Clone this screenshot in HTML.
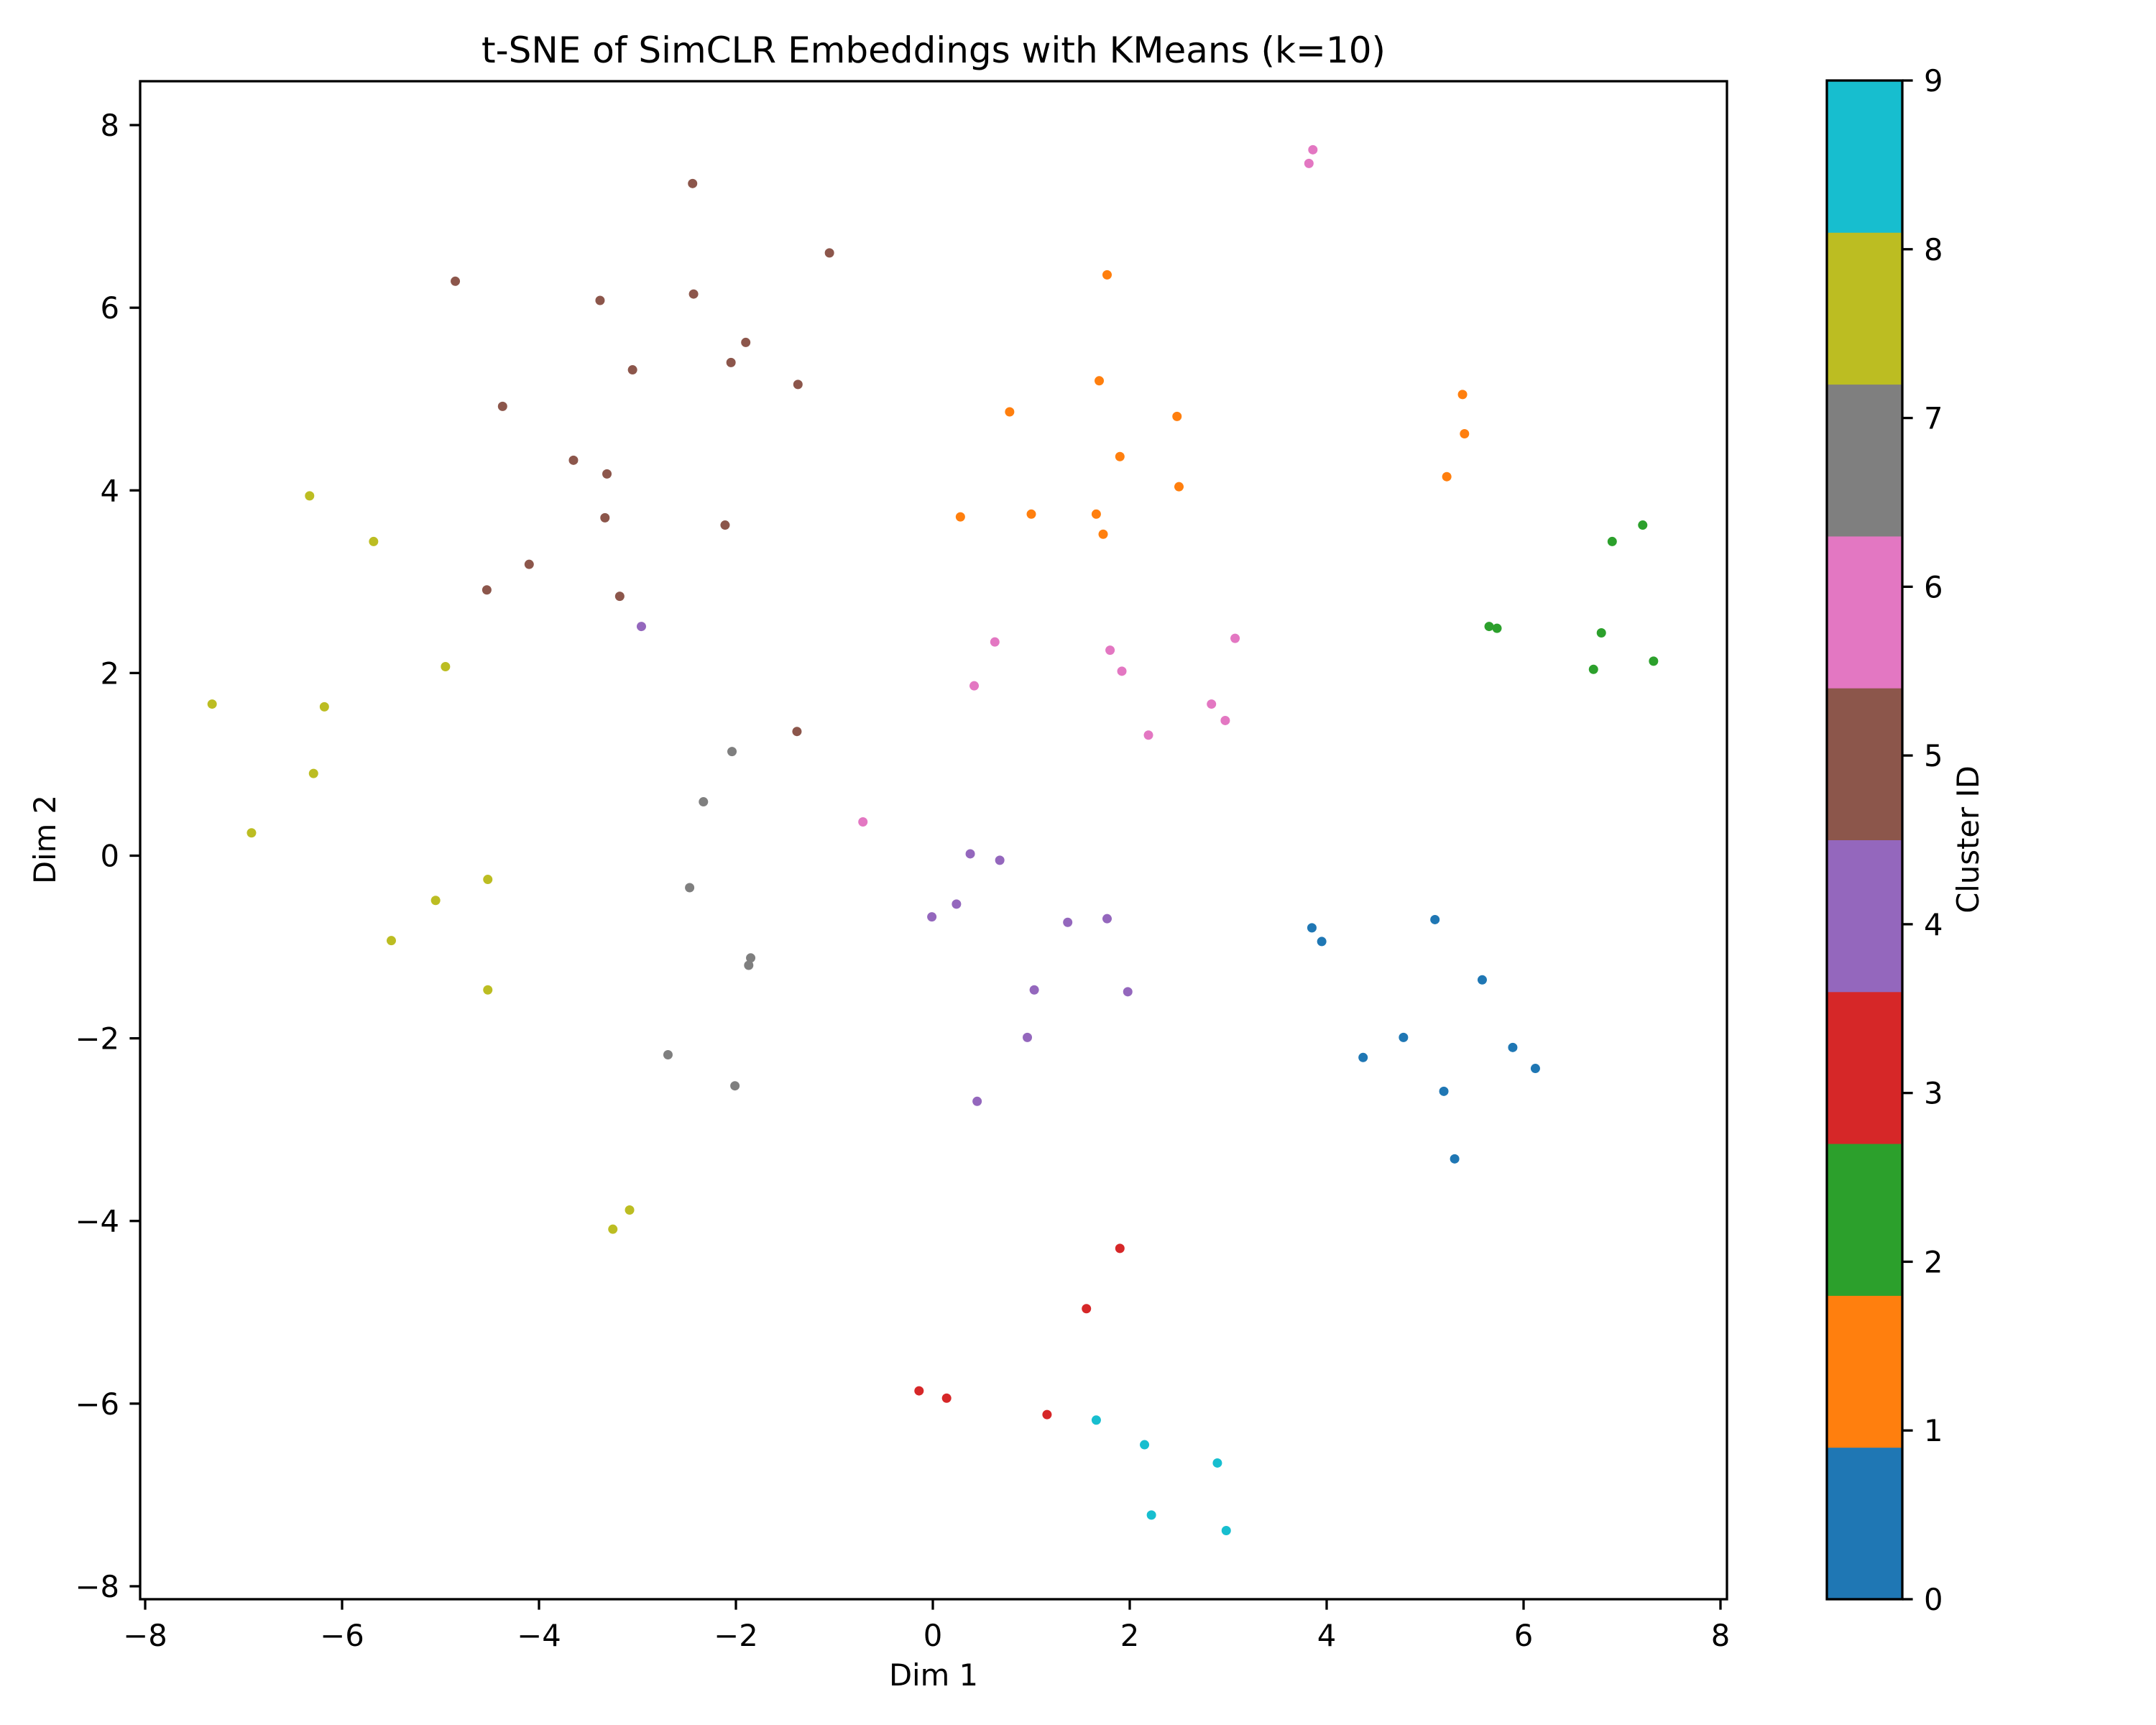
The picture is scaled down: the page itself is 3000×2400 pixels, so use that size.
<!DOCTYPE html>
<html><head><meta charset="utf-8"><style>
html,body{margin:0;padding:0;background:#fff;}
svg{display:block;font-family:"DejaVu Sans","Liberation Sans",sans-serif;}
</style></head><body>
<svg id="chart" width="3000" height="2400" viewBox="0 0 3000 2400" xmlns="http://www.w3.org/2000/svg">
<rect width="3000" height="2400" fill="#fff"/>
<g id="points"></g>
<g id="axes"></g>
<g id="cbar"></g>
</svg>
<script>
const clusterIds = [0,1,2,3,4,5,6,7,8,9];
const clusterColors = ["#1f77b4","#ff7f0e","#2ca02c","#d62728","#9467bd","#8c564b","#e377c2","#7f7f7f","#bcbd22","#17becf"];
const xTicks = [-8,-6,-4,-2,0,2,4,6,8];
const yTicks = [-8,-6,-4,-2,0,2,4,6,8];
const cbTicks = [0,1,2,3,4,5,6,7,8,9];
const c0x = [3.85,3.95,5.10,5.58,4.78,4.37,5.89,6.12,5.19,5.30];
const c0y = [-0.79,-0.94,-0.70,-1.36,-1.99,-2.21,-2.10,-2.33,-2.58,-3.32];
const c1x = [1.77,1.69,0.78,2.48,1.90,2.50,0.28,1.00,1.66,1.73,5.38,5.40,5.22];
const c1y = [6.36,5.20,4.86,4.81,4.37,4.04,3.71,3.74,3.74,3.52,5.05,4.62,4.15];
const c2x = [7.21,6.90,5.65,5.73,6.79,6.71,7.32];
const c2y = [3.62,3.44,2.51,2.49,2.44,2.04,2.13];
const c3x = [1.90,1.56,-0.14,0.14,1.16];
const c3y = [-4.30,-4.96,-5.86,-5.94,-6.12];
const c4x = [-2.96,0.38,0.68,-0.01,0.24,1.37,1.77,1.03,1.98,0.96,0.45];
const c4y = [2.51,0.02,-0.05,-0.67,-0.53,-0.73,-0.69,-1.47,-1.49,-1.99,-2.69];
const c5x = [-2.44,-1.05,-4.85,-3.38,-2.43,-1.90,-3.05,-2.05,-1.37,-4.37,-3.65,-3.31,-3.33,-2.11,-4.10,-4.53,-3.18,-1.38];
const c5y = [7.36,6.60,6.29,6.08,6.15,5.62,5.32,5.40,5.16,4.92,4.33,4.18,3.70,3.62,3.19,2.91,2.84,1.36];
const c6x = [3.86,3.82,0.63,0.42,1.80,1.92,3.07,2.83,2.97,2.19,-0.71];
const c6y = [7.73,7.58,2.34,1.86,2.25,2.02,2.38,1.66,1.48,1.32,0.37];
const c7x = [-2.04,-2.33,-2.47,-1.85,-1.87,-2.69,-2.01];
const c7y = [1.14,0.59,-0.35,-1.12,-1.20,-2.18,-2.52];
const c8x = [-6.33,-5.68,-7.32,-6.18,-4.95,-6.29,-6.92,-4.52,-5.05,-5.50,-4.52,-3.08,-3.25];
const c8y = [3.94,3.44,1.66,1.63,2.07,0.90,0.25,-0.26,-0.49,-0.93,-1.47,-3.88,-4.09];
const c9x = [1.66,2.15,2.89,2.22,2.98];
const c9y = [-6.18,-6.45,-6.65,-7.22,-7.39];

const NS="http://www.w3.org/2000/svg";
const L=195,R=2403,T=113,B=2225;
const X0=1298,XS=137;
const Y0=1190.5,YS=127.06;
function sx(v){return X0+v*XS;}
function sy(v){return Y0-v*YS;}
function mk(tag,attrs,parent){const e=document.createElementNS(NS,tag);for(const k in attrs)e.setAttribute(k,attrs[k]);parent.appendChild(e);return e;}
const pts=document.getElementById('points');
const xs=[c0x,c1x,c2x,c3x,c4x,c5x,c6x,c7x,c8x,c9x];
const ys=[c0y,c1y,c2y,c3y,c4y,c5y,c6y,c7y,c8y,c9y];
clusterIds.forEach(function(c){
  for(let i=0;i<xs[c].length;i++){
    const p=mk('circle',{cx:sx(xs[c][i]),cy:sy(ys[c][i]),r:6.5,fill:clusterColors[c]},pts);
    
    
  }
});
const ax=document.getElementById('axes');
const frame=mk('rect',{x:L,y:T,width:R-L,height:B-T,fill:'none',stroke:'#000','stroke-width':3.3},ax);


xTicks.forEach(function(v){
  const x=sx(v);
  mk('line',{x1:x,y1:B,x2:x,y2:B+14.6,stroke:'#000','stroke-width':3.3},ax);
  const t=mk('text',{x:x,y:2290,'font-size':41.7,'text-anchor':'middle',fill:'#000'},ax);
  t.textContent=(v<0?'\u2212'+(-v):''+v);
  
  
});
yTicks.forEach(function(v){
  const y=sy(v);
  mk('line',{x1:L-14.6,y1:y,x2:L,y2:y,stroke:'#000','stroke-width':3.3},ax);
  const t=mk('text',{x:166,y:y+15,'font-size':41.7,'text-anchor':'end',fill:'#000'},ax);
  t.textContent=(v<0?'\u2212'+(-v):''+v);
  
  
});
const title=mk('text',{x:(L+R)/2,y:87,'font-size':50,'text-anchor':'middle',fill:'#000'},ax);
title.textContent='t-SNE of SimCLR Embeddings with KMeans (k=10)';


const xl=mk('text',{x:(L+R)/2,y:2345,'font-size':41.7,'text-anchor':'middle',fill:'#000'},ax);
xl.textContent='Dim 1';


const yl=mk('text',{x:0,y:0,'font-size':41.7,'text-anchor':'middle',fill:'#000',transform:'translate(77,1168) rotate(-90)'},ax);
yl.textContent='Dim 2';


const cb=document.getElementById('cbar');
const CL=2542,CR=2647,CT=112,CB=2225;
const segH=(CB-CT)/clusterIds.length;
clusterIds.forEach(function(c,i){
  const r=mk('rect',{x:CL,y:CB-(i+1)*segH,width:CR-CL,height:segH+0.5,fill:clusterColors[c]},cb);
  
  
});
mk('rect',{x:CL,y:CT,width:CR-CL,height:CB-CT,fill:'none',stroke:'#000','stroke-width':3.3},cb);
const cbStep=(CB-CT)/(cbTicks.length-1);
cbTicks.forEach(function(v,i){
  const y=CB-i*cbStep;
  mk('line',{x1:CR,y1:y,x2:CR+14.6,y2:y,stroke:'#000','stroke-width':3.3},cb);
  const t=mk('text',{x:2677,y:y+15,'font-size':41.7,fill:'#000'},cb);
  t.textContent=''+v;
  
  
});
const cl=mk('text',{x:0,y:0,'font-size':41.7,'text-anchor':'middle',fill:'#000',transform:'translate(2753,1168) rotate(-90)'},cb);
cl.textContent='Cluster ID';


</script>
</body></html>
